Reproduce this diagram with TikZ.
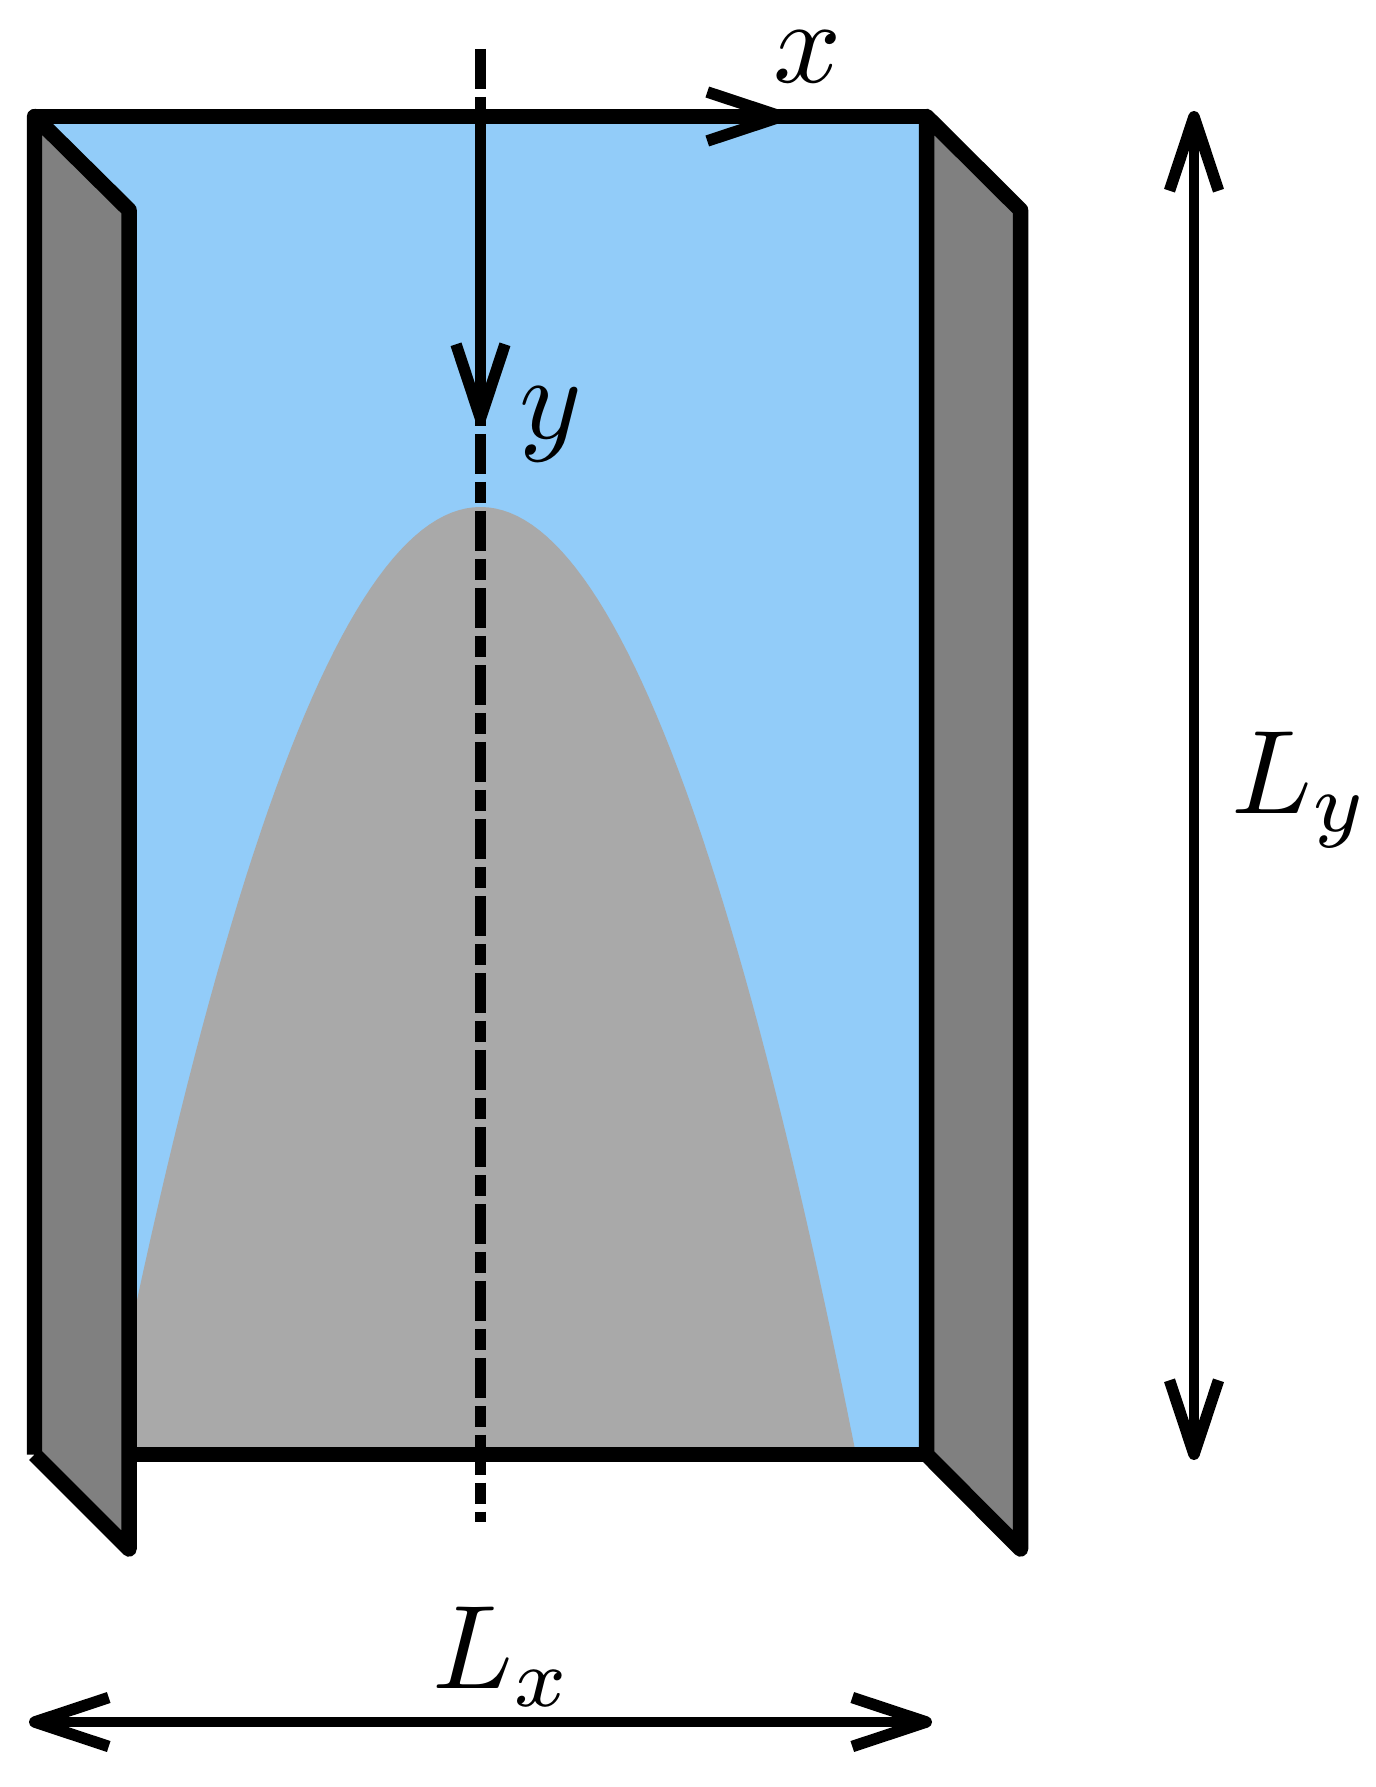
\documentclass[tikz,border=0pt]{standalone}
\usepackage{amssymb}
\usepackage{amsmath}
\usetikzlibrary{arrows.meta}
\definecolor{fluid}{HTML}{92CCF9}
\definecolor{plume}{HTML}{A9A9A9}
\definecolor{wall}{HTML}{808080}
\tikzset{
  wallface/.style={draw,fill=wall,line width=0.31cm,line join=round,line cap=butt},
  edge/.style={draw,line width=0.3cm,line join=round},
  axisline/.style={draw,line width=0.21cm,>={Straight Barb[length=1.48cm,width=0.98cm,line width=0.23cm,line join=round,line cap=butt]}},
  centerline/.style={draw,line width=0.22cm,dash pattern=on 0.8cm off 0.16cm on 0.42cm off 0.16cm},
  lab/.style={inner sep=0pt,scale=6.78}
}
\begin{document}
\begin{tikzpicture}[x=0.02cm,y=-0.02cm]
\useasboundingbox (0,0) rectangle (1375,1787);
\coordinate (tl) at (34.5,116.5);
\coordinate (tr) at (926.5,116.5);
\coordinate (bl) at (34.5,1454.5);
\coordinate (br) at (926.5,1454.5);
\coordinate (ltb) at (129,210);
\coordinate (lbb) at (129,1549);
\coordinate (rtb) at (1020.5,210);
\coordinate (rbb) at (1020.5,1549);
\coordinate (c1) at (480.5,49);
\coordinate (c2) at (480.5,1522);
\coordinate (o) at (480.5,116.5);
\coordinate (xtip) at (787,116.5);
\coordinate (ytip) at (480.5,424);
\coordinate (ly1) at (1194,111);
\coordinate (ly2) at (1194,1460);
\coordinate (lx1) at (29,1722);
\coordinate (lx2) at (932,1722);
\path[fill=fluid] (tl) rectangle (br);
\path[fill=plume] (129,1454.5) -- plot[domain=129:854.5,samples=100] (\x,{507+940*((\x-480.5)/374)^2}) -- cycle;
\path[edge] (tl) -- (tr);
\path[edge] (bl) -- (br);
\path[wallface] (bl) -- (lbb) -- (ltb) -- (tl) -- (bl);
\path[wallface] (br) -- (rbb) -- (rtb) -- (tr) -- (br);
\path[centerline] (c1) -- (c2);
\path[axisline,->] (o) -- (xtip);
\path[axisline,->] (o) -- (ytip);
\path[axisline,<->] (ly1) -- (ly2);
\path[axisline,<->] (lx1) -- (lx2);
\node[lab] (xlab) at (808,57) {$x$};
\node[lab] (ylab) at (551,424) {$y$};
\node[lab] (lxlab) at (503,1657) {$L_x$};
\node[lab] (lylab) at (1301,790) {$L_y$};
\end{tikzpicture}
\end{document}
